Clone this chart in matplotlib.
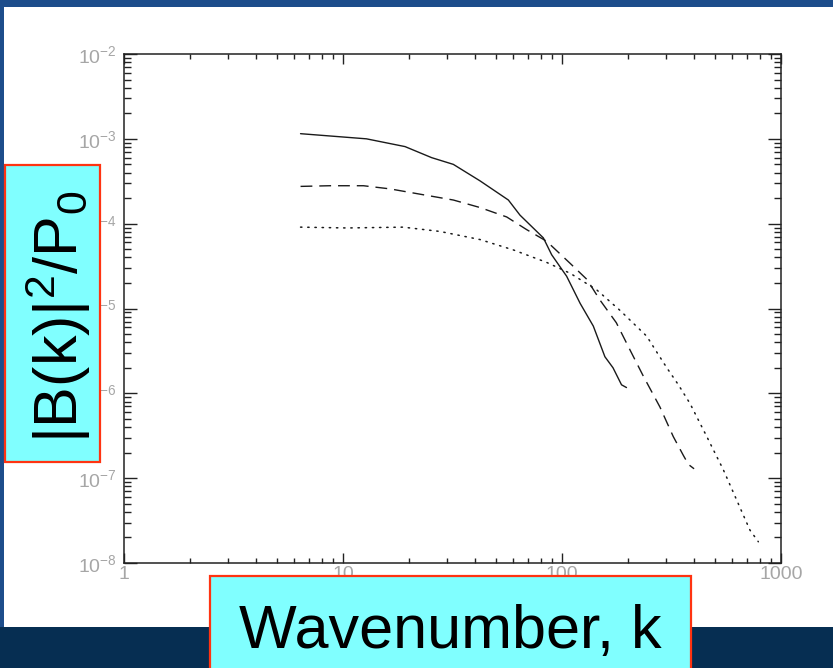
import numpy as np
import matplotlib
matplotlib.use("Agg")
import matplotlib.pyplot as plt
from matplotlib.patches import Rectangle
from matplotlib.ticker import LogLocator, FixedLocator, FuncFormatter, NullFormatter

plt.rcParams['font.family'] = ['Liberation Sans', 'DejaVu Sans']
plt.rcParams['mathtext.fontset'] = 'custom'
plt.rcParams['mathtext.rm'] = 'Liberation Sans'
plt.rcParams['mathtext.it'] = 'Liberation Sans'

# spectra |B(k)|^2 / P0 for three runs
k_solid = [6.4, 12.8, 19.2, 25.4, 31.9, 42.2, 56.9, 64.3, 82.2, 89.7, 105,
           121, 139, 157, 171, 187, 197]
b_solid = [1.15e-3, 1.0e-3, 8.1e-4, 6.0e-4, 5.0e-4, 3.2e-4, 1.9e-4, 1.26e-4,
           6.8e-5, 4.3e-5, 2.4e-5, 1.15e-5, 6.2e-6, 2.7e-6, 2.0e-6, 1.26e-6,
           1.17e-6]

k_dash = [6.4, 8.7, 12.4, 16.4, 23.3, 31.9, 42.2, 55.9, 69, 85.1, 109, 130,
          149, 177, 205, 235, 280, 322, 358, 378, 401]
b_dash = [2.75e-4, 2.8e-4, 2.8e-4, 2.57e-4, 2.19e-4, 1.9e-4, 1.55e-4, 1.2e-4,
          8.5e-5, 6.2e-5, 3.4e-5, 2.2e-5, 1.26e-5, 6.8e-6, 3.2e-6, 1.6e-6,
          6.9e-7, 3.1e-7, 1.86e-7, 1.45e-7, 1.29e-7]

k_dot = [6.4, 10.4, 18.8, 27.7, 42.2, 60, 85, 109, 144, 184, 244, 270, 301,
         340, 384, 458, 545, 628, 721, 788]
b_dot = [9.1e-5, 8.9e-5, 9.1e-5, 8.1e-5, 6.5e-5, 4.9e-5, 3.5e-5, 2.6e-5,
         1.66e-5, 9.5e-6, 4.7e-6, 3.1e-6, 2.0e-6, 1.26e-6, 7.6e-7, 3.1e-7,
         1.26e-7, 5.5e-8, 2.45e-8, 1.78e-8]

x_ticks = [1, 10, 100, 1000]
x_ticklabels = ["1", "10", "100", "1000"]
y_exponents = [-8, -7, -6, -5, -4, -3, -2]

xlabel = "Wavenumber, k"
ylabel = r"$\mathregular{|B(k)|^2/P_0}$"

W, H = 833, 668
fig = plt.figure(figsize=(W / 100, H / 100), dpi=100)
fig.patch.set_facecolor("#1d4d8b")

# slide background: blue frame, white panel, dark strip at the bottom
fig.add_artist(Rectangle((0, 0), 1, 41 / H, transform=fig.transFigure,
                         facecolor="#062e52", edgecolor="none", zorder=-10))
fig.add_artist(Rectangle((4 / W, 41 / H), 1, (627 - 7) / H,
                         transform=fig.transFigure, facecolor="white",
                         edgecolor="none", zorder=-9))

ax = fig.add_axes([124 / W, 1 - 563 / H, (781 - 124) / W, (563 - 54) / H])
ax.set_facecolor("white")

ax.plot(k_solid, b_solid, color="#1a1a1a", lw=1.0, solid_capstyle="round")
ax.plot(k_dash, b_dash, color="#1a1a1a", lw=1.0, dashes=(8.5, 5.0))
ax.plot(k_dot, b_dot, color="#1a1a1a", lw=1.1, dashes=(0.9, 3.8),
        dash_capstyle="round")

ax.set_xscale("log")
ax.set_yscale("log")
ax.set_xlim(1, 1000)
ax.set_ylim(1e-8, 1e-2)

for s in ax.spines.values():
    s.set_linewidth(1.1)
    s.set_color("#222222")

ax.xaxis.set_major_locator(FixedLocator(x_ticks))
ax.xaxis.set_major_formatter(FuncFormatter(lambda v, p: x_ticklabels[x_ticks.index(int(round(v)))] if int(round(v)) in x_ticks else ""))
ax.xaxis.set_minor_locator(LogLocator(base=10, subs=np.arange(2, 10), numticks=100))
ax.xaxis.set_minor_formatter(NullFormatter())

ax.yaxis.set_major_locator(FixedLocator([10.0 ** e for e in y_exponents]))
ax.yaxis.set_major_formatter(FuncFormatter(
    lambda v, p: r"$\mathregular{10^{%d}}$" % int(round(np.log10(v)))))
ax.yaxis.set_minor_locator(LogLocator(base=10, subs=np.arange(2, 10), numticks=100))
ax.yaxis.set_minor_formatter(NullFormatter())

ax.tick_params(axis="both", which="both", direction="in", top=True, right=True,
               color="#222222", width=1.0, labelcolor="#a6a6a6")
ax.tick_params(axis="x", which="major", length=7.2, pad=2, labelsize=14)
ax.tick_params(axis="x", which="minor", length=3.6)
ax.tick_params(axis="y", which="major", length=9.4, pad=5, labelsize=14)
ax.tick_params(axis="y", which="minor", length=4.7)

# cyan label boxes on top of the axes
fig.add_artist(Rectangle((5 / W, 1 - 462 / H), 95 / W, 297 / H,
                         transform=fig.transFigure, facecolor="#80ffff",
                         edgecolor="#ff3311", lw=1.6, zorder=10))
fig.add_artist(Rectangle((210 / W, -0.02), 481 / W, 0.02 + (668 - 576) / H,
                         transform=fig.transFigure, facecolor="#80ffff",
                         edgecolor="#ff3311", lw=1.6, zorder=10))

fig.text(450 / W, 1 - 648 / H, xlabel, fontsize=44, color="black",
         ha="center", va="baseline", zorder=11)
fig.text(78 / W, 1 - 317 / H, ylabel, fontsize=44, color="black",
         rotation=90, rotation_mode="anchor", ha="center", va="baseline",
         zorder=11)

fig.savefig("out.png", dpi=100, facecolor=fig.get_facecolor())
